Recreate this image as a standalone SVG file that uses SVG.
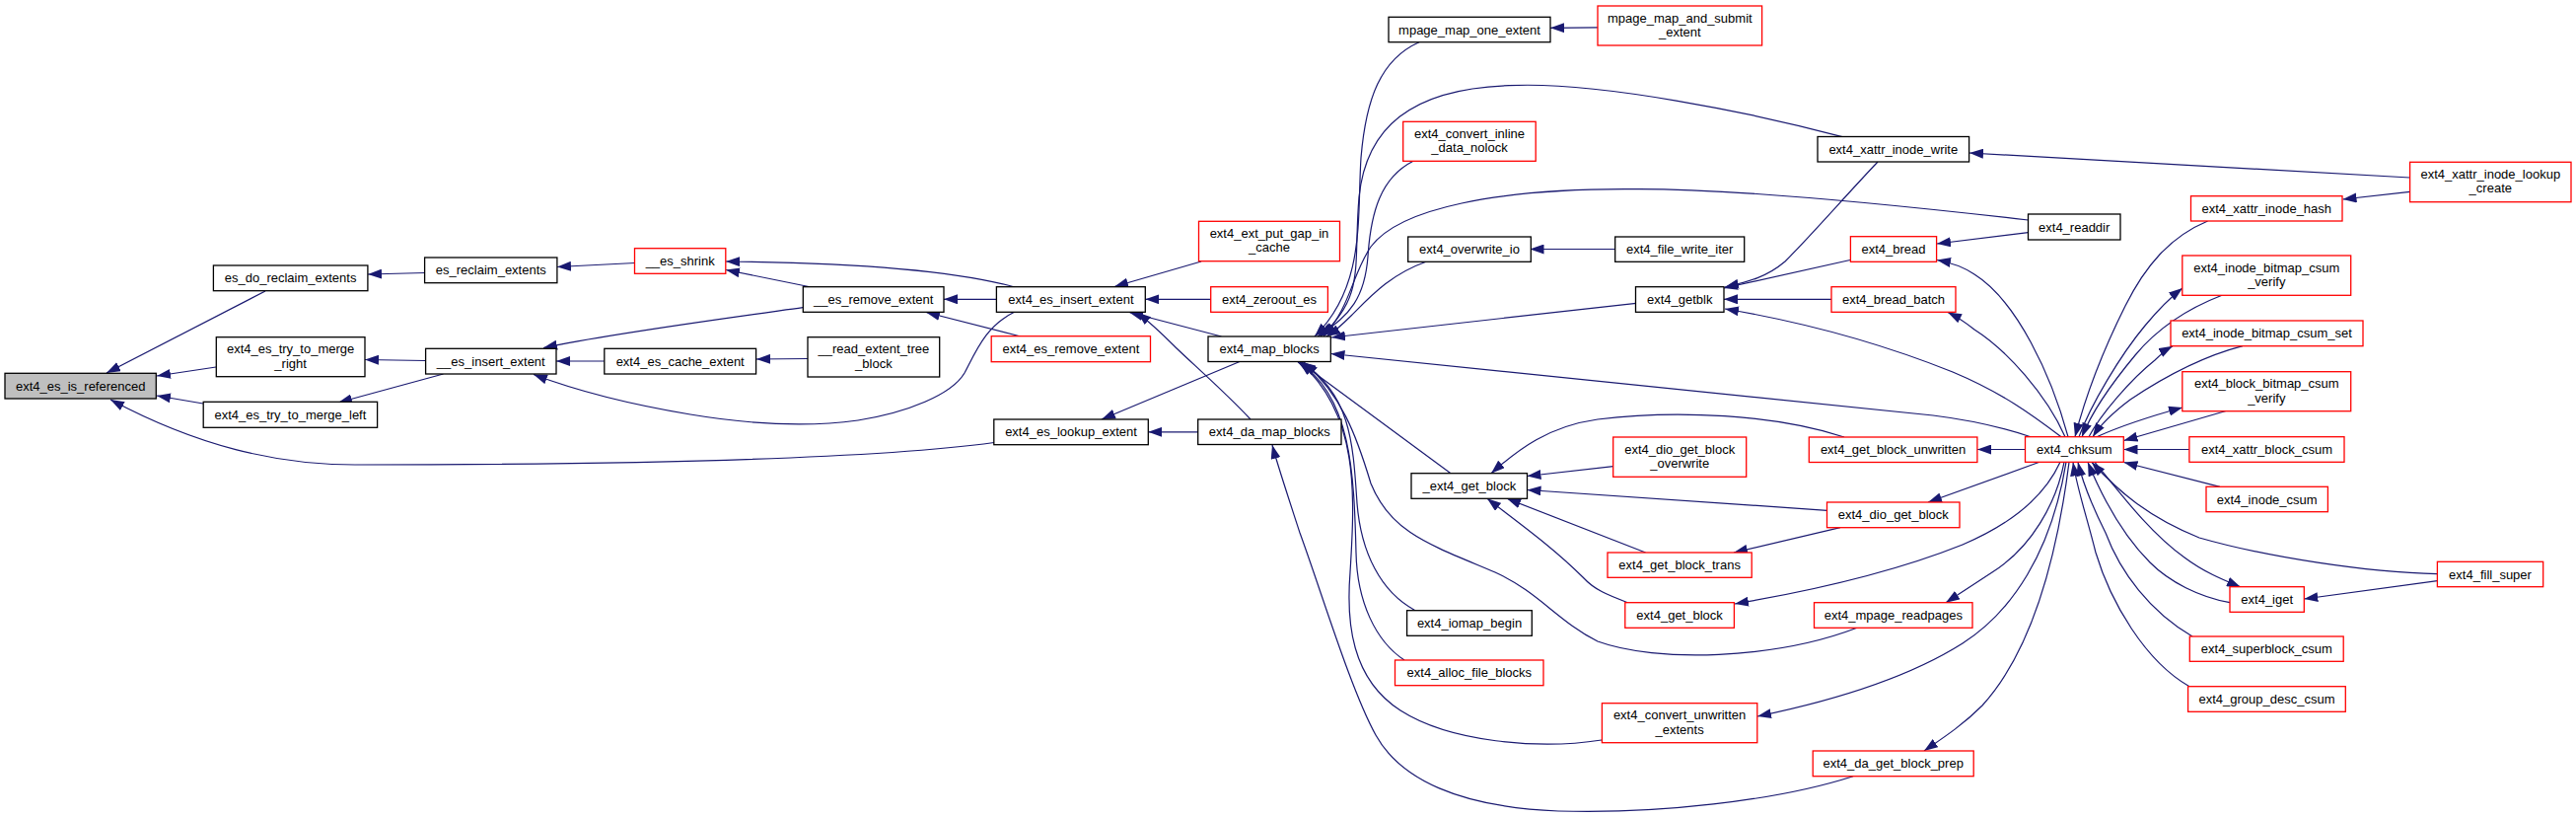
<svg xmlns="http://www.w3.org/2000/svg" width="2612" height="828" viewBox="0 0 2612 828">
<style>
.b{fill:#fff;stroke:#000;stroke-width:1.3}
.r{fill:#fff;stroke:#ff0000;stroke-width:1.3}
.g{fill:#bfbfbf;stroke:#000;stroke-width:1.3}
text{font-family:"Liberation Sans",Arial,sans-serif;font-size:13px;fill:#000;text-anchor:middle}
.e{fill:none;stroke:#191970;stroke-width:1.2;marker-end:url(#ah)}
</style>
<defs>
<marker id="ah" viewBox="0 0 14 10" refX="14" refY="5" markerWidth="14" markerHeight="10" markerUnits="userSpaceOnUse" orient="auto"><path d="M0,0 L14,5 L0,10 z" fill="#191970"/></marker>
</defs>
<rect width="2612" height="828" fill="#fff"/>
<g id="edges">
<path class="e" d="M269,295 L108,378"/>
<path class="e" d="M219,372 L159,381"/>
<path class="e" d="M206,409 L159,401"/>
<path class="e" d="M1008,448.5 C850,470 500,471 360,471 C280,471 200,452 112,405"/>
<path class="e" d="M431,276.5 L373,278"/>
<path class="e" d="M644,266.5 L565,270.5"/>
<path class="e" d="M1029,291 C960,272 850,266 736,265"/>
<path class="e" d="M820,290.5 L736,273.5"/>
<path class="e" d="M1010,303.3 L957,303.3"/>
<path class="e" d="M1035,341 L939,316.5"/>
<path class="e" d="M431,365.5 L370,364.5"/>
<path class="e" d="M449.5,379 L343,408"/>
<path class="e" d="M814,311.7 C740,322 620,338 551,352.5"/>
<path class="e" d="M612.8,366 L564,366"/>
<path class="e" d="M1029,316 C1000,330 990,355 978,378 C965,400 920,418 870,426 C820,433 760,430 700,420 C640,410 590,398 541,379.5"/>
<path class="e" d="M819,363.5 L767,364"/>
<path class="e" d="M1218,265 L1130,290.5"/>
<path class="e" d="M1227.7,303.3 L1161.3,303.3"/>
<path class="e" d="M1238.5,341 L1145,316.5"/>
<path class="e" d="M1268,425 C1240,395 1205,365 1190,350 C1180,340 1170,330 1153,316.5"/>
<path class="e" d="M1257,366.5 L1117,425"/>
<path class="e" d="M1214.7,437.8 L1164.3,437.8"/>
<path class="e" d="M1439,42.7 C1400,60 1385,100 1380,160 C1376,220 1385,290 1333,341"/>
<path class="e" d="M1433,163.3 C1400,180 1390,215 1387,260 C1384,300 1370,320 1336,341"/>
<path class="e" d="M1868,138.7 C1780,115 1620,82 1530,86.7 C1430,90 1385,130 1378,200 C1372,270 1385,300 1339,341"/>
<path class="e" d="M2056.5,223 C1900,205 1740,190 1647,191.7 C1520,192 1420,210 1390,250 C1370,280 1370,310 1342,341"/>
<path class="e" d="M1446,265.3 C1410,278 1390,300 1370,320 C1362,328 1355,335 1345,341"/>
<path class="e" d="M1659,307.3 L1350,342"/>
<path class="e" d="M2059,442.7 C2030,433 2000,426 1960,421 L1349.5,358.5"/>
<path class="e" d="M1471,479.7 L1318,367"/>
<path class="e" d="M1435,618.7 C1400,600 1380,560 1376,510 C1372,450 1370,400 1320,367"/>
<path class="e" d="M1424,669 C1395,650 1376,610 1375,560 C1373,480 1370,400 1316,367"/>
<path class="e" d="M1624,750 C1560,760 1470,752 1420,720 C1370,688 1365,630 1369,580 C1374,500 1378,420 1318,367"/>
<path class="e" d="M1883,636.3 C1800,668 1680,672 1620,650 C1580,630 1560,600 1516,580 C1450,552 1410,540 1390,490 C1375,440 1360,400 1322,367"/>
<path class="e" d="M1879,786.7 C1800,812 1680,825 1580,822 C1480,818 1420,790 1395,745 C1370,700 1340,600 1318,540 C1305,500 1295,470 1290,451"/>
<path class="e" d="M1620,27.8 L1572,28.3"/>
<path class="e" d="M1637.9,252.5 L1551.5,252.5"/>
<path class="e" d="M1904,164 C1870,200 1835,240 1810,265 C1790,282 1770,286 1749,291"/>
<path class="e" d="M1876,263.5 L1748,292"/>
<path class="e" d="M1857,303.3 L1748,303.3"/>
<path class="e" d="M2090,442.7 C2060,420 2030,398 1980,377 C1900,345 1820,325 1749,313"/>
<path class="e" d="M2443.6,180 L1997,155"/>
<path class="e" d="M2056.5,235.7 L1964,247"/>
<path class="e" d="M2097,442.7 C2080,380 2045,305 2002,278 C1990,270 1978,266 1964,263.5"/>
<path class="e" d="M2094,442.7 C2075,400 2035,355 2002,334 C1992,326 1984,321 1975,316.5"/>
<path class="e" d="M2443.6,194.3 L2375.5,202"/>
<path class="e" d="M1870,443 C1800,420 1700,415 1620,425 C1570,432 1540,455 1512,479.7"/>
<path class="e" d="M1635.7,472.7 L1548.5,482.5"/>
<path class="e" d="M1852.5,517.3 L1548.5,496.5"/>
<path class="e" d="M1668.6,560 L1528,505.3"/>
<path class="e" d="M1650.4,610.7 C1630,603 1617,598 1605,585 C1575,555 1540,530 1508,505.3"/>
<path class="e" d="M2053.6,455.5 L2005,455.5"/>
<path class="e" d="M2068,468.3 L1955,509"/>
<path class="e" d="M1866,534.7 L1758,560"/>
<path class="e" d="M2089,468.3 C2070,510 2030,535 1990,552 C1920,580 1830,600 1759,612"/>
<path class="e" d="M2093,468.3 C2085,510 2060,555 2020,580 C2000,593 1985,603 1973,610.7"/>
<path class="e" d="M2095,468.3 C2080,560 2040,620 1990,652 C1930,690 1850,712 1782,726"/>
<path class="e" d="M2098,468.3 C2085,570 2060,660 2010,715 C1990,735 1970,748 1951,761"/>
<path class="e" d="M2108,442.7 C2120,410 2150,360 2175,330 C2190,312 2200,302 2213,292"/>
<path class="e" d="M2253,299.3 C2220,312 2190,330 2165,360 C2140,390 2120,420 2111,442.7"/>
<path class="e" d="M2118,442.7 C2130,420 2160,385 2185,365 C2192,358 2197,354 2203,350.7"/>
<path class="e" d="M2274,350.7 C2230,362 2190,385 2160,405 C2140,420 2130,430 2122,442.7"/>
<path class="e" d="M2238.6,224 C2200,240 2175,270 2155,310 C2130,360 2115,400 2104,442.7"/>
<path class="e" d="M2126,442.7 C2150,432 2180,422 2213,413"/>
<path class="e" d="M2257,416.5 L2153.5,446.5"/>
<path class="e" d="M2220,455.5 L2153.5,455.5"/>
<path class="e" d="M2251,493.3 L2153.5,468.5"/>
<path class="e" d="M2124,468.3 C2150,500 2180,540 2215,565 C2235,580 2255,588 2272,595"/>
<path class="e" d="M2261,610.7 C2230,605 2200,590 2180,570 C2150,540 2130,500 2117,468.5"/>
<path class="e" d="M2471.4,581.7 C2400,580 2300,565 2230,545 C2180,525 2150,500 2121,468.5"/>
<path class="e" d="M2471.4,588.7 L2336.3,607"/>
<path class="e" d="M2223,645 C2180,620 2150,580 2135,540 C2120,510 2112,490 2107,468.5"/>
<path class="e" d="M2220,695.7 C2175,670 2140,610 2125,560 C2115,520 2106,495 2102,468.5"/>
</g>
<g id="n0"><rect class="g" x="5" y="378.3" width="153.3" height="25.7"/><text x="81.7" y="395.6">ext4_es_is_referenced</text></g>
<g id="n1"><rect class="b" x="216.4" y="269" width="156.5" height="25.7"/><text x="294.6" y="286.4">es_do_reclaim_extents</text></g>
<g id="n2"><rect class="b" x="430.6" y="261" width="134.3" height="25.7"/><text x="497.8" y="278.4">es_reclaim_extents</text></g>
<g id="n3"><rect class="b" x="219.3" y="341.7" width="150.7" height="40"/><text x="294.6" y="358.2">ext4_es_try_to_merge</text><text x="294.6" y="372.7">_right</text></g>
<g id="n4"><rect class="b" x="431.6" y="353.3" width="132.4" height="25.7"/><text x="497.8" y="370.6">__es_insert_extent</text></g>
<g id="n5"><rect class="b" x="206.2" y="407.3" width="176.4" height="26"/><text x="294.4" y="424.8">ext4_es_try_to_merge_left</text></g>
<g id="n6"><rect class="b" x="612.8" y="353.3" width="153.8" height="25.7"/><text x="689.7" y="370.6">ext4_es_cache_extent</text></g>
<g id="n7"><rect class="r" x="643.5" y="251.7" width="92.3" height="25.6"/><text x="689.7" y="269">__es_shrink</text></g>
<g id="n8"><rect class="b" x="814.3" y="290.7" width="142.7" height="25.6"/><text x="885.7" y="308">__es_remove_extent</text></g>
<g id="n9"><rect class="b" x="1010.4" y="290.7" width="150.9" height="25.6"/><text x="1085.9" y="308">ext4_es_insert_extent</text></g>
<g id="n10"><rect class="b" x="819" y="341.7" width="133.7" height="40.3"/><text x="885.9" y="358.2">__read_extent_tree</text><text x="885.9" y="372.7">_block</text></g>
<g id="n11"><rect class="r" x="1005.2" y="340.7" width="161.3" height="26"/><text x="1085.9" y="358.2">ext4_es_remove_extent</text></g>
<g id="n12"><rect class="r" x="1215.5" y="224.3" width="143" height="40.4"/><text x="1287" y="240.8">ext4_ext_put_gap_in</text><text x="1287" y="255.3">_cache</text></g>
<g id="n13"><rect class="r" x="1227.7" y="290.7" width="118.7" height="25.6"/><text x="1287" y="308">ext4_zeroout_es</text></g>
<g id="n14"><rect class="b" x="1225" y="341" width="124.3" height="25.5"/><text x="1287.2" y="358.2">ext4_map_blocks</text></g>
<g id="n15"><rect class="b" x="1007.8" y="425" width="156.5" height="25.7"/><text x="1086" y="442.3">ext4_es_lookup_extent</text></g>
<g id="n16"><rect class="b" x="1214.7" y="425" width="145.3" height="25.5"/><text x="1287.3" y="442.3">ext4_da_map_blocks</text></g>
<g id="n17"><rect class="b" x="1408" y="17.3" width="164" height="25.4"/><text x="1490" y="34.5">mpage_map_one_extent</text></g>
<g id="n18"><rect class="r" x="1620" y="6" width="166.6" height="40"/><text x="1703.3" y="22.5">mpage_map_and_submit</text><text x="1703.3" y="37">_extent</text></g>
<g id="n19"><rect class="r" x="1422.7" y="123.3" width="134.5" height="40"/><text x="1490" y="139.8">ext4_convert_inline</text><text x="1490" y="154.3">_data_nolock</text></g>
<g id="n20"><rect class="b" x="1843" y="138.5" width="153.6" height="25.5"/><text x="1919.8" y="155.7">ext4_xattr_inode_write</text></g>
<g id="n21"><rect class="b" x="1427.7" y="240" width="124.6" height="25.3"/><text x="1490" y="257.1">ext4_overwrite_io</text></g>
<g id="n22"><rect class="b" x="1637.7" y="240" width="131" height="25.3"/><text x="1703.2" y="257.1">ext4_file_write_iter</text></g>
<g id="n23"><rect class="r" x="1876.4" y="239.7" width="87.2" height="25.6"/><text x="1920" y="257">ext4_bread</text></g>
<g id="n24"><rect class="b" x="1658.5" y="290.7" width="89.5" height="25.6"/><text x="1703.2" y="308">ext4_getblk</text></g>
<g id="n25"><rect class="r" x="1857" y="290.7" width="126" height="25.6"/><text x="1920" y="308">ext4_bread_batch</text></g>
<g id="n26"><rect class="b" x="2056.5" y="217" width="93.5" height="26"/><text x="2103.2" y="234.5">ext4_readdir</text></g>
<g id="n27"><rect class="b" x="1431" y="479.7" width="117.5" height="25.6"/><text x="1489.8" y="497">_ext4_get_block</text></g>
<g id="n28"><rect class="r" x="1635.7" y="443" width="135" height="40.3"/><text x="1703.2" y="459.5">ext4_dio_get_block</text><text x="1703.2" y="474">_overwrite</text></g>
<g id="n29"><rect class="r" x="1834.3" y="443" width="170.6" height="25.5"/><text x="1919.6" y="460.2">ext4_get_block_unwritten</text></g>
<g id="n30"><rect class="r" x="1852.5" y="509" width="134.5" height="25.7"/><text x="1919.8" y="526.4">ext4_dio_get_block</text></g>
<g id="n31"><rect class="r" x="1630" y="560" width="146.2" height="25.3"/><text x="1703.1" y="577.2">ext4_get_block_trans</text></g>
<g id="n32"><rect class="r" x="1647.8" y="610.7" width="110.6" height="25.6"/><text x="1703.1" y="628">ext4_get_block</text></g>
<g id="n33"><rect class="r" x="1839.5" y="610.7" width="160.5" height="25.6"/><text x="1919.8" y="628">ext4_mpage_readpages</text></g>
<g id="n34"><rect class="b" x="1426.6" y="618.7" width="126.7" height="25.6"/><text x="1490" y="636">ext4_iomap_begin</text></g>
<g id="n35"><rect class="r" x="1414.5" y="669" width="150.5" height="25.7"/><text x="1489.8" y="686.4">ext4_alloc_file_blocks</text></g>
<g id="n36"><rect class="r" x="1624.4" y="712.7" width="157.4" height="40"/><text x="1703.1" y="729.2">ext4_convert_unwritten</text><text x="1703.1" y="743.7">_extents</text></g>
<g id="n37"><rect class="r" x="1838.2" y="761" width="163" height="25.7"/><text x="1919.7" y="778.4">ext4_da_get_block_prep</text></g>
<g id="n38"><rect class="r" x="2443.6" y="164.3" width="163.4" height="40.4"/><text x="2525.3" y="180.8">ext4_xattr_inode_lookup</text><text x="2525.3" y="195.3">_create</text></g>
<g id="n39"><rect class="r" x="2221.5" y="198.7" width="153.5" height="25.3"/><text x="2298.3" y="215.9">ext4_xattr_inode_hash</text></g>
<g id="n40"><rect class="r" x="2212.8" y="259" width="170.9" height="40.3"/><text x="2298.3" y="275.5">ext4_inode_bitmap_csum</text><text x="2298.3" y="290">_verify</text></g>
<g id="n41"><rect class="r" x="2201" y="325" width="195" height="25.7"/><text x="2298.5" y="342.4">ext4_inode_bitmap_csum_set</text></g>
<g id="n42"><rect class="r" x="2212.8" y="376.7" width="170.9" height="40"/><text x="2298.3" y="393.2">ext4_block_bitmap_csum</text><text x="2298.3" y="407.7">_verify</text></g>
<g id="n43"><rect class="r" x="2053.5" y="442.7" width="99.8" height="25.6"/><text x="2103.4" y="460">ext4_chksum</text></g>
<g id="n44"><rect class="r" x="2219.9" y="442.7" width="157.1" height="25.6"/><text x="2298.5" y="460">ext4_xattr_block_csum</text></g>
<g id="n45"><rect class="r" x="2237" y="493.3" width="123.4" height="25.4"/><text x="2298.7" y="510.5">ext4_inode_csum</text></g>
<g id="n46"><rect class="r" x="2471.4" y="569.3" width="107.3" height="25.4"/><text x="2525" y="586.5">ext4_fill_super</text></g>
<g id="n47"><rect class="r" x="2261" y="594.7" width="75.3" height="25.6"/><text x="2298.7" y="612">ext4_iget</text></g>
<g id="n48"><rect class="r" x="2220.3" y="645" width="155.9" height="25.3"/><text x="2298.3" y="662.2">ext4_superblock_csum</text></g>
<g id="n49"><rect class="r" x="2218.6" y="695.7" width="159.7" height="25.6"/><text x="2298.5" y="713">ext4_group_desc_csum</text></g>
</svg>
